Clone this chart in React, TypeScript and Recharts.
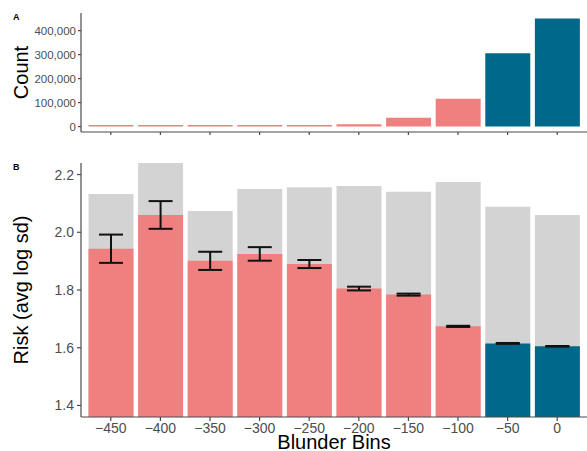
import React from 'react';
import { BarChart, Bar, XAxis, YAxis, Cell, ErrorBar } from 'recharts';

// ---- data ----
const bins = ['−450', '−400', '−350', '−300', '−250', '−200', '−150', '−100', '−50', '0'];
const counts = [2000, 2200, 2600, 3000, 4500, 9500, 37000, 116000, 306000, 451000];
const riskMean = [1.943, 2.06, 1.901, 1.925, 1.89, 1.805, 1.784, 1.674, 1.615, 1.605];
const riskSe = [0.049, 0.048, 0.0315, 0.0235, 0.014, 0.0065, 0.0035, 0.002, 0.0015, 0.001];
const riskBackground = [2.133, 2.26, 2.074, 2.15, 2.156, 2.16, 2.14, 2.174, 2.088, 2.06];
const nonBlunder = [false, false, false, false, false, false, false, false, true, true];
const countTicks = [0, 100000, 200000, 300000, 400000];
const riskTicks = [1.4, 1.6, 1.8, 2.0, 2.2];
const riskLimits = [1.4, 2.2];

const RED = '#F08080';
const BLUE = '#00688B';
const GRAY = '#D3D3D3';
const AXIS = '#4a4a4a';
const TICKTXT = '#4D4D4D';
const FONT = '"Liberation Sans", Arial, Helvetica, sans-serif';

const countData = bins.map((b, i) => ({ bin: b, count: counts[i], nb: nonBlunder[i] }));
const riskData = bins.map((b, i) => ({
  bin: b,
  mean: riskMean[i],
  se: riskSe[i],
  bg: riskBackground[i],
  nb: nonBlunder[i],
}));

const maxCount = Math.max(...counts);
const countDomain = [-0.05 * maxCount, 1.05 * maxCount];
const rr = riskLimits[1] - riskLimits[0];
const riskDomain = [riskLimits[0] - 0.05 * rr, riskLimits[1] + 0.05 * rr];

const W = 587;
const LEFT = 81;

const yTitle = (text: string) => (props: any) => {
  const vb = props.viewBox || {};
  const cx = (vb.x || 0) + 28;
  const cy = (vb.y || 0) + (vb.height || 0) / 2;
  return (
    <text
      x={cx}
      y={cy}
      transform={`rotate(-90, ${cx}, ${cy})`}
      textAnchor="middle"
      fontSize={20}
      fontFamily={FONT}
      fill="#000"
    >
      {text}
    </text>
  );
};

const xTitle = (text: string) => (props: any) => {
  const vb = props.viewBox || {};
  const cx = (vb.x || 0) + (vb.width || 0) / 2;
  const cy = (vb.y || 0) + (vb.height || 0) - 2;
  return (
    <text x={cx} y={cy} textAnchor="middle" fontSize={20} fontFamily={FONT} fill="#000">
      {text}
    </text>
  );
};

const EmptyTick = () => <g />;

export default function App() {
  return (
    <div style={{ position: 'absolute', left: 0, top: 0, width: W, height: 451, background: '#fff', fontFamily: FONT }}>
      {/* Panel A */}
      <div style={{ position: 'absolute', left: 0, top: 0 }}>
        <BarChart
          width={W}
          height={140}
          data={countData}
          margin={{ top: 13, right: 0, bottom: 0, left: 0 }}
          barCategoryGap="5%"
        >
          <XAxis
            dataKey="bin"
            height={8}
            padding={{ left: 5, right: 5 }}
            tick={EmptyTick}
            tickSize={3}
            axisLine={{ stroke: AXIS, strokeWidth: 1.2 }}
            tickLine={{ stroke: AXIS, strokeWidth: 1.2 }}
            interval={0}
          />
          <YAxis
            width={LEFT}
            domain={countDomain}
            ticks={countTicks}
            allowDataOverflow
            tickFormatter={(v: number) => v.toLocaleString('en-US')}
            tick={{ fill: TICKTXT, fontSize: 11.5, fontFamily: FONT }}
            tickSize={3}
            tickMargin={2}
            axisLine={{ stroke: AXIS, strokeWidth: 1.2 }}
            tickLine={{ stroke: AXIS, strokeWidth: 1.2 }}
            label={yTitle('Count')}
          />
          <Bar dataKey="count" isAnimationActive={false} minPointSize={1.5}>
            {countData.map((d, i) => (
              <Cell key={i} fill={d.nb ? BLUE : RED} />
            ))}
          </Bar>
        </BarChart>
      </div>

      {/* Panel B */}
      <div style={{ position: 'absolute', left: 0, top: 150 }}>
        <BarChart
          width={W}
          height={301}
          data={riskData}
          margin={{ top: 13, right: 0, bottom: 0, left: 0 }}
          barCategoryGap="5%"
        >
          <XAxis
            xAxisId="bg"
            dataKey="bin"
            hide
            height={0}
            padding={{ left: 5, right: 5 }}
          />
          <XAxis
            xAxisId="main"
            dataKey="bin"
            height={34}
            padding={{ left: 5, right: 5 }}
            interval={0}
            tick={{ fill: TICKTXT, fontSize: 14, fontFamily: FONT }}
            tickSize={4}
            tickMargin={2}
            axisLine={{ stroke: AXIS, strokeWidth: 1.2 }}
            tickLine={{ stroke: AXIS, strokeWidth: 1.2 }}
            label={xTitle('Blunder Bins')}
          />
          <YAxis
            width={LEFT}
            domain={riskDomain}
            ticks={riskTicks}
            allowDataOverflow
            tickFormatter={(v: number) => v.toFixed(1)}
            tick={{ fill: TICKTXT, fontSize: 14, fontFamily: FONT }}
            tickSize={4}
            tickMargin={3}
            axisLine={{ stroke: AXIS, strokeWidth: 1.2 }}
            tickLine={{ stroke: AXIS, strokeWidth: 1.2 }}
            label={yTitle('Risk (avg log sd)')}
          />
          <Bar xAxisId="bg" dataKey="bg" fill={GRAY} isAnimationActive={false} />
          <Bar xAxisId="main" dataKey="mean" isAnimationActive={false}>
            {riskData.map((d, i) => (
              <Cell key={i} fill={d.nb ? BLUE : RED} />
            ))}
            <ErrorBar dataKey="se" width={12} stroke="#111" strokeWidth={2} direction="y" />
          </Bar>
        </BarChart>
      </div>

      {/* panel tags */}
      <svg width={W} height={451} style={{ position: 'absolute', left: 0, top: 0, pointerEvents: 'none' }}>
        <text x={13} y={19.5} fontSize={9} fontWeight="bold" fontFamily={FONT} fill="#000">A</text>
        <text x={13} y={169.5} fontSize={9} fontWeight="bold" fontFamily={FONT} fill="#000">B</text>
      </svg>
    </div>
  );
}
